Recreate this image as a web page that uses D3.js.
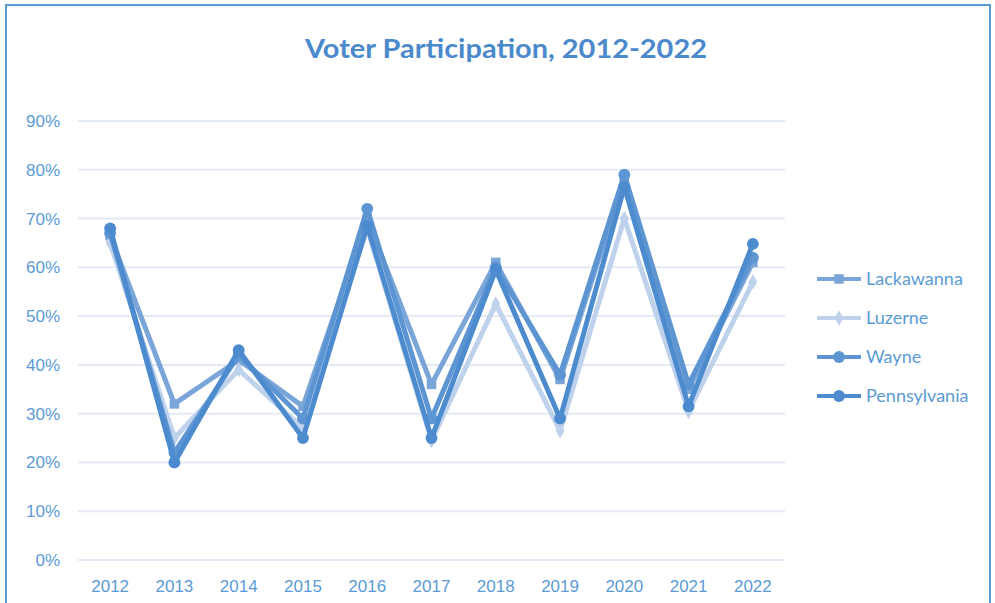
<!DOCTYPE html>
<html>
<head>
<meta charset="utf-8">
<script src="https://cdn.jsdelivr.net/npm/d3@7"></script>
<style>
  body { margin: 0; background: #fff; }
  svg { display: block; font-family: Lato, "Open Sans", sans-serif; }
</style>
</head>
<body>
<div id="chartDiv"></div>
<script>
const years = ["2012", "2013", "2014", "2015", "2016", "2017", "2018", "2019", "2020", "2021", "2022"];
const lackawanna = [66.5, 32, 41, 31.5, 70, 36, 61, 37, 78, 35, 61];
const luzerne = [65, 25, 39, 27, 68, 24.5, 52.5, 26.5, 70, 30.5, 57];
const wayne = [67, 22, 42, 29, 72, 29, 60, 38, 79, 36, 62];
const pennsylvania = [68, 20, 43, 25, 68.5, 25, 59.5, 29, 76.5, 31.5, 64.8];
const yTicks = [0, 10, 20, 30, 40, 50, 60, 70, 80, 90];

const series = [
  {name: "Lackawanna", values: lackawanna, color: "#7aa5d9", shape: "square"},
  {name: "Luzerne", values: luzerne, color: "#bfd2eb", shape: "diamond"},
  {name: "Wayne", values: wayne, color: "#5d95d3", shape: "circle"},
  {name: "Pennsylvania", values: pennsylvania, color: "#4d8bcf", shape: "circle"}
];

const width = 995, height = 603;
const margin = {top: 121, right: 210, bottom: 43, left: 78};
const textColor = "#5b9bd5";

const svg = d3.create("svg").attr("width", width).attr("height", height);

// chart frame
svg.append("path")
  .attr("d", `M6,${height + 2} V5 H990 V${height + 2}`)
  .attr("fill", "none")
  .attr("stroke", "#5b9bd5")
  .attr("stroke-width", 2);

svg.append("text")
  .attr("x", 506).attr("y", 58)
  .attr("text-anchor", "middle")
  .attr("fill", "#4a89cc")
  .attr("font-size", 27)
  .attr("font-weight", "bold")
  .attr("textLength", 402)
  .attr("lengthAdjust", "spacingAndGlyphs")
  .text("Voter Participation, 2012-2022");

const x = d3.scaleBand().domain(years).range([margin.left, width - margin.right]);
const y = d3.scaleLinear().domain([0, 90]).range([height - margin.bottom, margin.top]);

// gridlines
svg.append("g")
  .selectAll("line")
  .data(yTicks)
  .join("line")
  .attr("x1", margin.left).attr("x2", width - margin.right)
  .attr("y1", d => y(d)).attr("y2", d => y(d))
  .attr("stroke", "#e3eaf6")
  .attr("stroke-width", 2);

const yAxis = svg.append("g")
  .attr("transform", `translate(${margin.left},0)`)
  .call(d3.axisLeft(y).tickValues(yTicks).tickFormat(d => d + "%").tickSize(0).tickPadding(18));
yAxis.select(".domain").remove();
yAxis.selectAll("text").attr("fill", textColor).attr("font-size", 17);

const xAxis = svg.append("g")
  .attr("transform", `translate(0,${height - margin.bottom})`)
  .call(d3.axisBottom(x).tickSize(0).tickPadding(20));
xAxis.select(".domain").remove();
xAxis.selectAll("text").attr("fill", textColor).attr("font-size", 17);

const line = d3.line()
  .x((d, i) => x(years[i]) + x.bandwidth() / 2)
  .y(d => y(d));

function marker(shape) {
  if (shape === "square") return d3.symbol(d3.symbolSquare, 90)();
  if (shape === "diamond") return d3.symbol(d3.symbolDiamond, 70)();
  return d3.symbol(d3.symbolCircle, 110)();
}

const g = svg.append("g");
series.forEach(s => {
  g.append("path")
    .attr("d", line(s.values))
    .attr("fill", "none")
    .attr("stroke", s.color)
    .attr("stroke-width", 5)
    .attr("stroke-linejoin", "round");
  g.selectAll(null)
    .data(s.values)
    .join("path")
    .attr("transform", (d, i) => `translate(${x(years[i]) + x.bandwidth() / 2},${y(d)})`)
    .attr("d", marker(s.shape))
    .attr("fill", s.color);
});

// legend
const legend = svg.append("g")
  .selectAll("g")
  .data(series)
  .join("g")
  .attr("transform", (d, i) => `translate(817,${279 + i * 39})`);
legend.append("line")
  .attr("x1", 0).attr("x2", 44)
  .attr("stroke", d => d.color)
  .attr("stroke-width", 4);
legend.append("path")
  .attr("transform", "translate(22,0)")
  .attr("d", d => marker(d.shape))
  .attr("fill", d => d.color);
legend.append("text")
  .attr("x", 49).attr("dy", "0.35em")
  .attr("fill", textColor)
  .attr("font-size", 18)
  .text(d => d.name);

document.getElementById("chartDiv").appendChild(svg.node());
</script>
</body>
</html>
